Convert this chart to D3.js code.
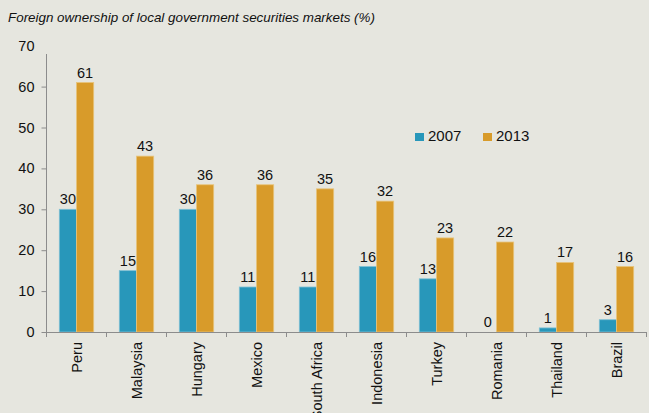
<!DOCTYPE html>
<html>
<head>
<meta charset="utf-8">
<script src="https://cdn.jsdelivr.net/npm/d3@7"></script>
<style>
  html, body { margin: 0; padding: 0; background: #e6e6df; }
  svg { display: block; }
  text { font-family: "Liberation Sans", Arial, sans-serif; fill: #111; }
</style>
</head>
<body>
<svg id="chart" width="649" height="413"></svg>
<script>
// Foreign ownership of local government securities markets (%)
const countries = ["Peru", "Malaysia", "Hungary", "Mexico", "South Africa",
                   "Indonesia", "Turkey", "Romania", "Thailand", "Brazil"];
const values2007 = [30, 15, 30, 11, 11, 16, 13, 0, 1, 3];
const values2013 = [61, 43, 36, 36, 35, 32, 23, 22, 17, 16];
const seriesNames = ["2007", "2013"];
const seriesColors = ["#2897ba", "#d89b2a"];
const yTicks = [0, 10, 20, 30, 40, 50, 60, 70];

const svg = d3.select("#chart");
const left = 46.5, right = 646.5, bottom = 332, axisTop = 54;

const x = d3.scaleBand().domain(countries).range([left, right])
  .paddingInner(0.427).paddingOuter(0.2135);
const xs = d3.scaleBand().domain(seriesNames).range([0, x.bandwidth()]);
const y = d3.scaleLinear().domain([0, 70]).range([bottom, bottom - 7 * 40.9]);

// Title
svg.append("text")
  .attr("x", 8).attr("y", 22)
  .style("font-style", "italic").style("font-size", "13.4px")
  .text("Foreign ownership of local government securities markets (%)");

// Y axis
const yAxis = svg.append("g").attr("transform", `translate(${left},0)`);
yAxis.append("line").attr("x1", 0).attr("x2", 0)
  .attr("y1", axisTop).attr("y2", bottom).attr("stroke", "#8c8c8c");
yAxis.selectAll(".tk").data(yTicks.filter(d => y(d) >= axisTop)).join("line")
  .attr("x1", -5).attr("x2", 0).attr("y1", d => y(d) + 0.5).attr("y2", d => y(d) + 0.5)
  .attr("stroke", "#8c8c8c");
yAxis.selectAll(".lb").data(yTicks).join("text")
  .attr("x", -12).attr("y", d => y(d)).attr("dy", "0.35em")
  .attr("text-anchor", "end").style("font-size", "14.5px")
  .text(d => d);

// Bars
const groups = svg.append("g").selectAll("g").data(countries).join("g")
  .attr("transform", d => `translate(${x(d)},0)`);
const rows = countries.map((c, i) => [values2007[i], values2013[i]]);
groups.selectAll("rect").data((d, i) => rows[i].map((v, k) => ({ v, k })))
  .join("rect")
  .attr("x", d => xs(seriesNames[d.k]))
  .attr("width", xs.bandwidth())
  .attr("y", d => y(d.v))
  .attr("height", d => bottom - y(d.v))
  .attr("fill", d => seriesColors[d.k])
  .attr("stroke", d => d.k === 0 ? "#7ec0d4" : "#e8c47a")
  .attr("stroke-width", 0.8);
groups.selectAll("text").data((d, i) => rows[i].map((v, k) => ({ v, k })))
  .join("text")
  .attr("x", d => xs(seriesNames[d.k]) + xs.bandwidth() / 2)
  .attr("y", d => y(d.v) - 5)
  .attr("text-anchor", "middle").style("font-size", "14.5px")
  .text(d => d.v);

// X axis
const xAxis = svg.append("g");
xAxis.append("line").attr("x1", left).attr("x2", right)
  .attr("y1", bottom + 0.5).attr("y2", bottom + 0.5).attr("stroke", "#8c8c8c");
const step = x.step();
xAxis.selectAll(".tk").data(d3.range(countries.length + 1)).join("line")
  .attr("x1", i => left + i * step).attr("x2", i => left + i * step)
  .attr("y1", bottom).attr("y2", bottom + 5).attr("stroke", "#8c8c8c");
xAxis.selectAll(".lb").data(countries).join("text")
  .attr("transform", d => `translate(${x(d) + x.bandwidth() / 2},${bottom + 10}) rotate(-90)`)
  .attr("dy", "0.35em").attr("text-anchor", "end").style("font-size", "14.5px")
  .text(d => d);

// Legend
const legend = svg.append("g").attr("transform", "translate(415,133)");
seriesNames.forEach((s, i) => {
  const g = legend.append("g").attr("transform", `translate(${i * 68},0)`);
  g.append("rect").attr("width", 9).attr("height", 8).attr("fill", seriesColors[i]);
  g.append("text").attr("x", 13).attr("y", 8).style("font-size", "15px").text(s);
});
</script>
</body>
</html>
